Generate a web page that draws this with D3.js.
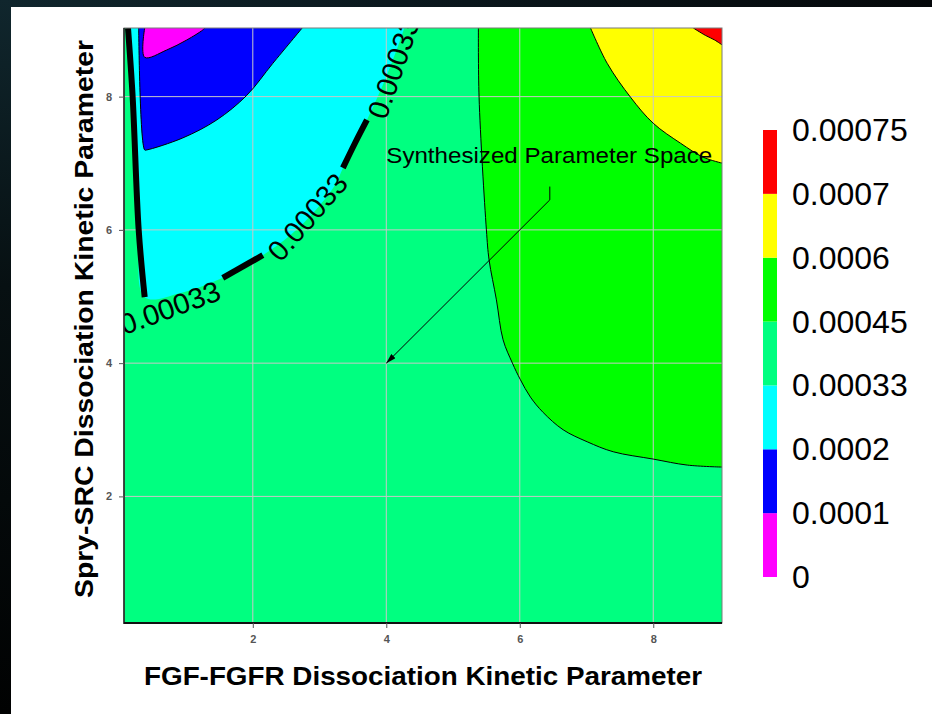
<!DOCTYPE html>
<html>
<head>
<meta charset="utf-8">
<script src="https://cdn.jsdelivr.net/npm/d3@7"></script>
<style>
  body { margin: 0; background: #071014; }
  text { font-family: "Liberation Sans", Arial, sans-serif; }
</style>
</head>
<body>
<svg id="chart" width="932" height="714"></svg>
<script>
// contour levels and the fill colour of each band (low -> high)
var levels = [0, 0.0001, 0.0002, 0.00033, 0.00045, 0.0006, 0.0007, 0.00075];
var bandColors = ["#ff00ff", "#0000ff", "#00ffff", "#00ff80", "#00ff00", "#ffff00", "#ff0000"];

var xTicks = [2, 4, 6, 8];
var yTicks = [2, 4, 6, 8];

// contour lines, [x, y] in data units
var magentaEdge = [[0.38, 9.03], [0.38, 8.59], [0.71, 8.70], [1.01, 8.85], [1.25, 9.0], [1.28, 9.03]];
var blueEdge = [[0.29, 9.03], [0.38, 7.20], [0.41, 7.20], [0.95, 7.38], [1.46, 7.65], [1.91, 8.02],
    [2.30, 8.50], [2.74, 9.03]];
var cyanEdge = [[0.13, 9.03], [0.20, 7.99], [0.29, 6.0], [0.38, 4.99], [0.91, 5.05], [1.55, 5.28],
    [2.15, 5.62], [2.56, 5.92], [2.90, 6.25], [3.23, 6.67], [3.35, 6.93], [3.53, 7.30], [3.71, 7.65],
    [3.98, 8.25], [4.18, 8.77], [4.27, 9.03]];
var greenEdge = [[5.38, 9.03], [5.39, 7.99], [5.50, 6.0], [5.54, 5.55], [5.65, 4.95], [5.75, 4.35],
    [5.89, 4.0], [6.01, 3.75], [6.16, 3.49], [6.35, 3.26], [6.65, 3.0], [7.01, 2.82], [7.40, 2.67],
    [8.0, 2.56], [8.51, 2.47], [9.04, 2.44]];
var yellowEdge = [[7.06, 9.03], [7.31, 8.50], [7.66, 7.99], [8.0, 7.60], [8.41, 7.30], [8.75, 7.09], [9.04, 7.0]];
var redEdge = [[8.60, 9.03], [8.78, 8.92], [8.92, 8.85], [9.04, 8.77]];

// pieces of the 0.00033 contour that stay drawn (gaps hold the labels)
var thickPieces = [[0, 3], [5, 6], [10, 12]];
var contourLabels = [
    { text: "0.00033", x: 0.76, y: 4.83, angle: -20 },
    { text: "0.00033", x: 2.82, y: 6.19, angle: -49 },
    { text: "0.00033", x: 4.11, y: 8.43, angle: -71 }
];

var note = { text: "Synthesized Parameter Space", x: 4.0, y: 7.0 };
var arrowPath = [[6.45, 6.65], [6.45, 6.45], [4.0, 4.0]];

var xDomain = [0.07, 9.03], yDomain = [0.1, 9.03];

var svg = d3.select("#chart");
var W = 932, H = 714;
var plot = { left: 124, right: 722, top: 28, bottom: 623 };

var xScale = d3.scaleLinear().domain(xDomain).range([plot.left, plot.right]);
var yScale = d3.scaleLinear().domain(yDomain).range([plot.bottom, plot.top]);

// dark slide frame + white panel
var defs = svg.append("defs");
var grad = defs.append("linearGradient").attr("id", "frame");
grad.append("stop").attr("offset", "0%").attr("stop-color", "#10262d");
grad.append("stop").attr("offset", "50%").attr("stop-color", "#0a161b");
grad.append("stop").attr("offset", "100%").attr("stop-color", "#05080a");
var gradV = defs.append("linearGradient").attr("id", "frameV")
    .attr("x1", 0).attr("y1", 0).attr("x2", 0).attr("y2", 1);
gradV.append("stop").attr("offset", "0%").attr("stop-color", "#10262d");
gradV.append("stop").attr("offset", "40%").attr("stop-color", "#071012");
gradV.append("stop").attr("offset", "100%").attr("stop-color", "#010202");
svg.append("rect").attr("width", W).attr("height", H).attr("fill", "url(#frame)");
svg.append("rect").attr("width", 11).attr("height", H).attr("fill", "url(#frameV)");
svg.append("rect").attr("x", 11).attr("y", 7).attr("width", W - 11).attr("height", H - 7).attr("fill", "#ffffff");

defs.append("clipPath").attr("id", "plotClip")
    .append("rect")
    .attr("x", plot.left).attr("y", plot.top)
    .attr("width", plot.right - plot.left).attr("height", plot.bottom - plot.top);

defs.append("marker")
    .attr("id", "head")
    .attr("viewBox", "0 0 10 6")
    .attr("refX", 10).attr("refY", 3)
    .attr("markerWidth", 11).attr("markerHeight", 6)
    .attr("markerUnits", "userSpaceOnUse")
    .attr("orient", "auto")
    .append("path").attr("d", "M0,0L10,3L0,6Z").attr("fill", "#000");

var line = d3.line()
    .x(function (d) { return xScale(d[0]); })
    .y(function (d) { return yScale(d[1]); })
    .curve(d3.curveCatmullRom);
var straight = d3.line()
    .x(function (d) { return xScale(d[0]); })
    .y(function (d) { return yScale(d[1]); });
var corner = [xDomain[1], yDomain[1]];

var g = svg.append("g").attr("clip-path", "url(#plotClip)");

// base band fills the whole panel
g.append("rect")
    .attr("x", plot.left).attr("y", plot.top)
    .attr("width", plot.right - plot.left).attr("height", plot.bottom - plot.top)
    .attr("fill", bandColors[3]);

var regions = [
    { pts: cyanEdge, color: bandColors[2], toCorner: false },
    { pts: blueEdge, color: bandColors[1], toCorner: false },
    { pts: magentaEdge, color: bandColors[0], toCorner: false },
    { pts: greenEdge, color: bandColors[4], toCorner: true },
    { pts: yellowEdge, color: bandColors[5], toCorner: true },
    { pts: redEdge, color: bandColors[6], toCorner: true }
];
g.selectAll(".band")
    .data(regions)
    .enter()
    .append("path")
    .attr("class", "band")
    .attr("d", function (d) {
        var p = line(d.pts);
        if (d.toCorner) p += "L" + xScale(corner[0]) + "," + yScale(corner[1]);
        return p + "Z";
    })
    .attr("fill", function (d) { return d.color; });

// grid
g.selectAll(".vgrid").data(xTicks).enter().append("line")
    .attr("x1", function (d) { return xScale(d); }).attr("x2", function (d) { return xScale(d); })
    .attr("y1", plot.top).attr("y2", plot.bottom)
    .attr("stroke", "#c8c8c8").attr("stroke-width", 1);
g.selectAll(".hgrid").data(yTicks).enter().append("line")
    .attr("y1", function (d) { return yScale(d); }).attr("y2", function (d) { return yScale(d); })
    .attr("x1", plot.left).attr("x2", plot.right)
    .attr("stroke", "#c8c8c8").attr("stroke-width", 1);

// thin contour lines
g.selectAll(".thin")
    .data([magentaEdge, blueEdge, greenEdge, yellowEdge, redEdge])
    .enter()
    .append("path")
    .attr("d", line)
    .attr("fill", "none")
    .attr("stroke", "#000")
    .attr("stroke-width", 1);

// the labelled 0.00033 contour
g.selectAll(".thick")
    .data(thickPieces)
    .enter()
    .append("path")
    .attr("d", function (d) { return line(cyanEdge.slice(d[0], d[1] + 1)); })
    .attr("fill", "none")
    .attr("stroke", "#000")
    .attr("stroke-width", 6)
    .attr("stroke-linecap", "butt");

g.selectAll(".clabel")
    .data(contourLabels)
    .enter()
    .append("text")
    .attr("transform", function (d) {
        return "translate(" + xScale(d.x) + "," + yScale(d.y) + ") rotate(" + d.angle + ")";
    })
    .attr("text-anchor", "middle")
    .attr("dominant-baseline", "central")
    .attr("font-size", 29)
    .attr("fill", "#000")
    .text(function (d) { return d.text; });

// annotation
svg.append("text")
    .attr("x", xScale(note.x)).attr("y", yScale(note.y))
    .attr("font-size", 22)
    .attr("textLength", 326).attr("lengthAdjust", "spacingAndGlyphs")
    .attr("fill", "#000")
    .text(note.text);
svg.append("path")
    .attr("d", straight(arrowPath))
    .attr("fill", "none")
    .attr("stroke", "#000")
    .attr("stroke-width", 1)
    .attr("marker-end", "url(#head)");

// frame of the plot
svg.append("rect")
    .attr("x", plot.left).attr("y", plot.top)
    .attr("width", plot.right - plot.left).attr("height", plot.bottom - plot.top)
    .attr("fill", "none").attr("stroke", "#7a7a7a").attr("stroke-width", 1);
svg.append("line").attr("x1", plot.left).attr("x2", plot.left).attr("y1", plot.top).attr("y2", plot.bottom + 1)
    .attr("stroke", "#222").attr("stroke-width", 1.5);
svg.append("line").attr("x1", plot.left).attr("x2", plot.right).attr("y1", plot.bottom).attr("y2", plot.bottom)
    .attr("stroke", "#111").attr("stroke-width", 2);

// axes
var xAxis = d3.axisBottom(xScale).tickValues(xTicks).tickSize(5).tickPadding(7);
var yAxis = d3.axisLeft(yScale).tickValues(yTicks).tickSize(5).tickPadding(7);
var xg = svg.append("g").attr("transform", "translate(0," + plot.bottom + ")").call(xAxis);
var yg = svg.append("g").attr("transform", "translate(" + plot.left + ",0)").call(yAxis);
[xg, yg].forEach(function (ax) {
    ax.select(".domain").remove();
    ax.selectAll(".tick line").attr("stroke", "#555");
    ax.selectAll(".tick text")
        .attr("fill", "#555")
        .attr("font-size", 11)
        .attr("font-weight", "bold")
        .style("font-family", "'Liberation Sans Narrow', 'Arial Narrow', sans-serif");
});

svg.append("text")
    .attr("x", (plot.left + plot.right) / 2).attr("y", 685)
    .attr("text-anchor", "middle")
    .attr("font-size", 26).attr("font-weight", "bold")
    .attr("textLength", 558).attr("lengthAdjust", "spacingAndGlyphs")
    .text("FGF-FGFR Dissociation Kinetic Parameter");
svg.append("text")
    .attr("transform", "translate(93,319) rotate(-90)")
    .attr("text-anchor", "middle")
    .attr("font-size", 26).attr("font-weight", "bold")
    .attr("textLength", 558).attr("lengthAdjust", "spacingAndGlyphs")
    .text("Spry-SRC Dissociation Kinetic Parameter");

// colour key
var keyY = d3.scalePoint().domain(levels).range([577, 130]);
var key = svg.append("g");
key.selectAll("rect")
    .data(bandColors)
    .enter()
    .append("rect")
    .attr("x", 763).attr("width", 14)
    .attr("y", function (d, i) { return keyY(levels[i + 1]); })
    .attr("height", function (d, i) { return keyY(levels[i]) - keyY(levels[i + 1]); })
    .attr("fill", function (d) { return d; });
key.selectAll("text")
    .data(levels)
    .enter()
    .append("text")
    .attr("x", 792)
    .attr("y", function (d) { return keyY(d); })
    .attr("dominant-baseline", "central")
    .attr("font-size", 32)
    .attr("fill", "#000")
    .text(function (d) { return String(d); });
</script>
</body>
</html>
